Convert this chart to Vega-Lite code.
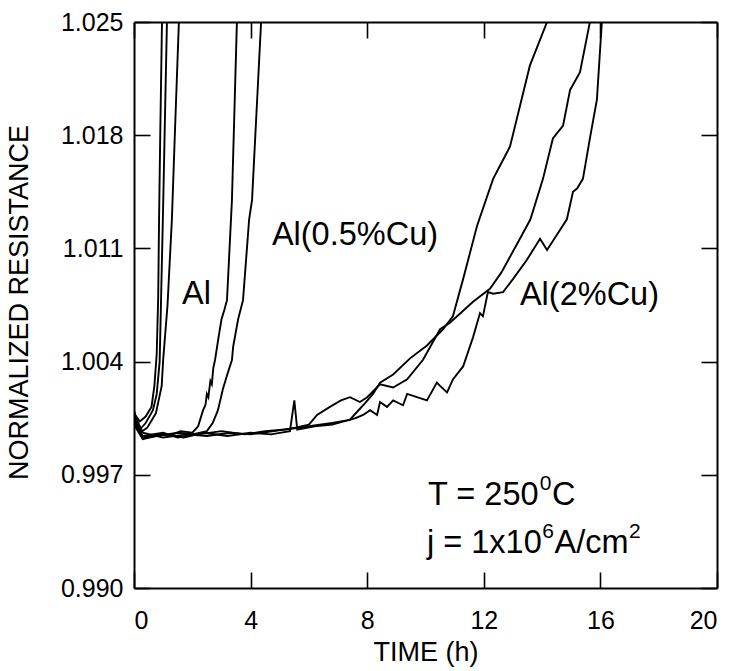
{
  "$schema": "https://vega.github.io/schema/vega-lite/v6.json",
  "autosize": "none",
  "padding": {"left": 134, "top": 22, "right": 16, "bottom": 83},
  "width": 583,
  "height": 566,
  "background": "white",
  "config": {
    "view": {"stroke": null},
    "font": "Liberation Sans",
    "axis": {"grid": false, "domainColor": "black", "domainWidth": 2, "tickColor": "black", "tickWidth": 1.6, "tickSize": -16, "labelColor": "black", "titleColor": "black", "labelFont": "Liberation Sans", "titleFont": "Liberation Sans", "labelFontSize": 25, "titleFontSize": 27, "titleFontWeight": "normal"}
  },
  "datasets": {
    "curves": [
      {"s":"A1","t":0,"r":1.0008},{"s":"A1","t":0.2,"r":1.0003},{"s":"A1","t":0.4,"r":1.0006},{"s":"A1","t":0.6,"r":1.0012},{"s":"A1","t":0.7,"r":1.0025},{"s":"A1","t":0.78,"r":1.0045},{"s":"A1","t":0.83,"r":1.008},{"s":"A1","t":0.86,"r":1.0128},{"s":"A1","t":0.9,"r":1.018},{"s":"A1","t":0.96,"r":1.025},
      {"s":"A2","t":0,"r":1.0004},{"s":"A2","t":0.2,"r":0.9998},{"s":"A2","t":0.4,"r":1.0002},{"s":"A2","t":0.65,"r":1.001},{"s":"A2","t":0.78,"r":1.002},{"s":"A2","t":0.88,"r":1.004},{"s":"A2","t":0.93,"r":1.008},{"s":"A2","t":0.99,"r":1.0128},{"s":"A2","t":1.05,"r":1.018},{"s":"A2","t":1.13,"r":1.025},
      {"s":"A3","t":0,"r":1.001},{"s":"A3","t":0.2,"r":0.9996},{"s":"A3","t":0.45,"r":0.9999},{"s":"A3","t":0.75,"r":1.0008},{"s":"A3","t":0.95,"r":1.0025},{"s":"A3","t":1.0,"r":1.0041},{"s":"A3","t":1.15,"r":1.0075},{"s":"A3","t":1.3,"r":1.0128},{"s":"A3","t":1.4,"r":1.018},{"s":"A3","t":1.54,"r":1.025},
      {"s":"B1","t":0,"r":1.0006},{"s":"B1","t":0.3,"r":0.9993},{"s":"B1","t":0.8,"r":0.9995},{"s":"B1","t":1.2,"r":0.9994},{"s":"B1","t":1.6,"r":0.9997},{"s":"B1","t":2.0,"r":0.9996},{"s":"B1","t":2.2,"r":1.0},{"s":"B1","t":2.37,"r":1.001},{"s":"B1","t":2.45,"r":1.0013},{"s":"B1","t":2.5,"r":1.002},{"s":"B1","t":2.55,"r":1.0018},{"s":"B1","t":2.62,"r":1.0028},{"s":"B1","t":2.67,"r":1.0026},{"s":"B1","t":2.72,"r":1.0036},{"s":"B1","t":2.78,"r":1.0041},{"s":"B1","t":2.9,"r":1.0055},{"s":"B1","t":3.0,"r":1.0066},{"s":"B1","t":3.1,"r":1.0072},{"s":"B1","t":3.19,"r":1.0078},{"s":"B1","t":3.36,"r":1.014},{"s":"B1","t":3.53,"r":1.025},
      {"s":"B2","t":0,"r":1.0002},{"s":"B2","t":0.3,"r":0.9994},{"s":"B2","t":1.0,"r":0.9996},{"s":"B2","t":1.5,"r":0.9993},{"s":"B2","t":2.0,"r":0.9995},{"s":"B2","t":2.5,"r":0.9997},{"s":"B2","t":2.7,"r":1.0002},{"s":"B2","t":2.88,"r":1.001},{"s":"B2","t":3.05,"r":1.0023},{"s":"B2","t":3.2,"r":1.0032},{"s":"B2","t":3.36,"r":1.0041},{"s":"B2","t":3.4,"r":1.0049},{"s":"B2","t":3.57,"r":1.0066},{"s":"B2","t":3.74,"r":1.0078},{"s":"B2","t":3.95,"r":1.0128},{"s":"B2","t":4.05,"r":1.014},{"s":"B2","t":4.36,"r":1.025},
      {"s":"C1","t":0,"r":1.0003},{"s":"C1","t":0.3,"r":0.9993},{"s":"C1","t":0.8,"r":0.9994},{"s":"C1","t":1.5,"r":0.9996},{"s":"C1","t":2.2,"r":0.9995},{"s":"C1","t":3.0,"r":0.9997},{"s":"C1","t":3.8,"r":0.9995},{"s":"C1","t":4.5,"r":0.9997},{"s":"C1","t":5.2,"r":0.9998},{"s":"C1","t":6.0,"r":1.0},{"s":"C1","t":6.8,"r":1.0002},{"s":"C1","t":7.1,"r":1.0003},{"s":"C1","t":7.4,"r":1.0004},{"s":"C1","t":7.86,"r":1.0013},{"s":"C1","t":8.2,"r":1.002},{"s":"C1","t":8.44,"r":1.0027},{"s":"C1","t":8.89,"r":1.0032},{"s":"C1","t":9.47,"r":1.0042},{"s":"C1","t":10.05,"r":1.005},{"s":"C1","t":10.6,"r":1.006},{"s":"C1","t":10.94,"r":1.0068},{"s":"C1","t":11.29,"r":1.0091},{"s":"C1","t":11.77,"r":1.0124},{"s":"C1","t":12.32,"r":1.0153},{"s":"C1","t":12.9,"r":1.0173},{"s":"C1","t":13.58,"r":1.0223},{"s":"C1","t":14.17,"r":1.025},
      {"s":"C2","t":0,"r":1.0008},{"s":"C2","t":0.3,"r":0.9996},{"s":"C2","t":1.0,"r":0.9993},{"s":"C2","t":1.8,"r":0.9995},{"s":"C2","t":2.5,"r":0.9994},{"s":"C2","t":3.3,"r":0.9996},{"s":"C2","t":4.0,"r":0.9995},{"s":"C2","t":4.8,"r":0.9997},{"s":"C2","t":5.5,"r":0.9999},{"s":"C2","t":6.0,"r":1.0001},{"s":"C2","t":6.28,"r":1.0007},{"s":"C2","t":6.72,"r":1.0012},{"s":"C2","t":7.1,"r":1.0016},{"s":"C2","t":7.41,"r":1.0018},{"s":"C2","t":7.75,"r":1.0015},{"s":"C2","t":8.0,"r":1.0018},{"s":"C2","t":8.44,"r":1.0026},{"s":"C2","t":8.89,"r":1.0024},{"s":"C2","t":9.37,"r":1.0029},{"s":"C2","t":9.91,"r":1.0041},{"s":"C2","t":10.5,"r":1.006},{"s":"C2","t":10.84,"r":1.0064},{"s":"C2","t":11.63,"r":1.0077},{"s":"C2","t":12.21,"r":1.0085},{"s":"C2","t":12.6,"r":1.0095},{"s":"C2","t":13.24,"r":1.0116},{"s":"C2","t":13.6,"r":1.0128},{"s":"C2","t":14.03,"r":1.0153},{"s":"C2","t":14.37,"r":1.0178},{"s":"C2","t":14.72,"r":1.0186},{"s":"C2","t":14.96,"r":1.0208},{"s":"C2","t":15.3,"r":1.0219},{"s":"C2","t":15.64,"r":1.025},
      {"s":"C3","t":0,"r":1.0001},{"s":"C3","t":0.3,"r":0.9992},{"s":"C3","t":1.0,"r":0.9995},{"s":"C3","t":1.7,"r":0.9993},{"s":"C3","t":2.4,"r":0.9996},{"s":"C3","t":3.2,"r":0.9994},{"s":"C3","t":4.0,"r":0.9996},{"s":"C3","t":4.7,"r":0.9995},{"s":"C3","t":5.35,"r":0.9997},{"s":"C3","t":5.5,"r":1.0016},{"s":"C3","t":5.6,"r":0.9998},{"s":"C3","t":6.2,"r":1.0},{"s":"C3","t":6.8,"r":1.0001},{"s":"C3","t":7.2,"r":1.0003},{"s":"C3","t":7.6,"r":1.0005},{"s":"C3","t":7.86,"r":1.0007},{"s":"C3","t":8.1,"r":1.001},{"s":"C3","t":8.34,"r":1.0007},{"s":"C3","t":8.44,"r":1.0015},{"s":"C3","t":8.68,"r":1.0012},{"s":"C3","t":8.89,"r":1.0016},{"s":"C3","t":9.23,"r":1.0013},{"s":"C3","t":9.37,"r":1.002},{"s":"C3","t":10.05,"r":1.0016},{"s":"C3","t":10.39,"r":1.0027},{"s":"C3","t":10.5,"r":1.0025},{"s":"C3","t":10.74,"r":1.0021},{"s":"C3","t":10.94,"r":1.0029},{"s":"C3","t":11.29,"r":1.0037},{"s":"C3","t":11.63,"r":1.0055},{"s":"C3","t":11.87,"r":1.007},{"s":"C3","t":11.97,"r":1.0068},{"s":"C3","t":12.14,"r":1.0083},{"s":"C3","t":12.32,"r":1.0082},{"s":"C3","t":12.66,"r":1.0083},{"s":"C3","t":13.0,"r":1.0091},{"s":"C3","t":13.48,"r":1.0103},{"s":"C3","t":13.93,"r":1.0116},{"s":"C3","t":14.17,"r":1.0109},{"s":"C3","t":14.85,"r":1.0128},{"s":"C3","t":15.06,"r":1.0145},{"s":"C3","t":15.2,"r":1.0147},{"s":"C3","t":15.4,"r":1.0153},{"s":"C3","t":15.64,"r":1.0178},{"s":"C3","t":15.88,"r":1.0202},{"s":"C3","t":16.05,"r":1.025}
    ],
    "labels": [
      {"t": 1.65, "r": 1.0082, "label": "Al"},
      {"t": 4.73, "r": 1.0118, "label": "Al(0.5%Cu)"},
      {"t": 13.24, "r": 1.0081, "label": "Al(2%Cu)"},
      {"t": 10.086, "r": 0.99576, "label": "T = 250"},
      {"t": 14.34, "r": 0.99576, "label": "C"},
      {"t": 10.051, "r": 0.99279, "label": "j = 1x10"},
      {"t": 14.425, "r": 0.99279, "label": "A/cm"}
    ],
    "sups": [
      {"t": 13.921, "r": 0.99644, "label": "0"},
      {"t": 14.007, "r": 0.99347, "label": "6"},
      {"t": 16.98, "r": 0.99347, "label": "2"}
    ]
  },
  "layer": [
    {
      "data": {"name": "curves"},
      "mark": {"type": "line", "color": "black", "strokeWidth": 1.9, "clip": true},
      "encoding": {
        "x": {"field": "t", "type": "quantitative", "scale": {"domain": [0, 20], "nice": false}, "axis": {"orient": "bottom", "values": [0, 4, 8, 12, 16, 20], "title": "TIME (h)", "labelPadding": 36, "titlePadding": 6}},
        "y": {"field": "r", "type": "quantitative", "scale": {"domain": [0.99, 1.025], "nice": false, "zero": false}, "axis": {"orient": "left", "values": [0.99, 0.997, 1.004, 1.011, 1.018, 1.025], "format": ".3f", "title": "NORMALIZED RESISTANCE", "labelPadding": 27, "titleX": -101, "titleY": 280, "titleAlign": "center", "titleAngle": 270, "titleBaseline": "bottom"}},
        "detail": {"field": "s"}
      }
    },
    {
      "data": {"name": "curves"},
      "mark": {"type": "point", "opacity": 0},
      "encoding": {
        "x": {"field": "t", "type": "quantitative", "axis": {"orient": "top", "values": [0, 4, 8, 12, 16, 20], "labels": false, "title": null}},
        "y": {"field": "r", "type": "quantitative", "axis": {"orient": "right", "values": [0.99, 0.997, 1.004, 1.011, 1.018, 1.025], "labels": false, "title": null}}
      }
    },
    {
      "data": {"name": "labels"},
      "mark": {"type": "text", "align": "left", "baseline": "middle", "fontSize": 32.5, "font": "Liberation Sans", "color": "black"},
      "encoding": {
        "x": {"field": "t", "type": "quantitative", "axis": null},
        "y": {"field": "r", "type": "quantitative", "axis": null},
        "text": {"field": "label"}
      }
    },
    {
      "data": {"name": "sups"},
      "mark": {"type": "text", "align": "left", "baseline": "middle", "fontSize": 21, "font": "Liberation Sans", "color": "black"},
      "encoding": {
        "x": {"field": "t", "type": "quantitative", "axis": null},
        "y": {"field": "r", "type": "quantitative", "axis": null},
        "text": {"field": "label"}
      }
    }
  ],
  "resolve": {"axis": {"x": "independent", "y": "independent"}}
}
